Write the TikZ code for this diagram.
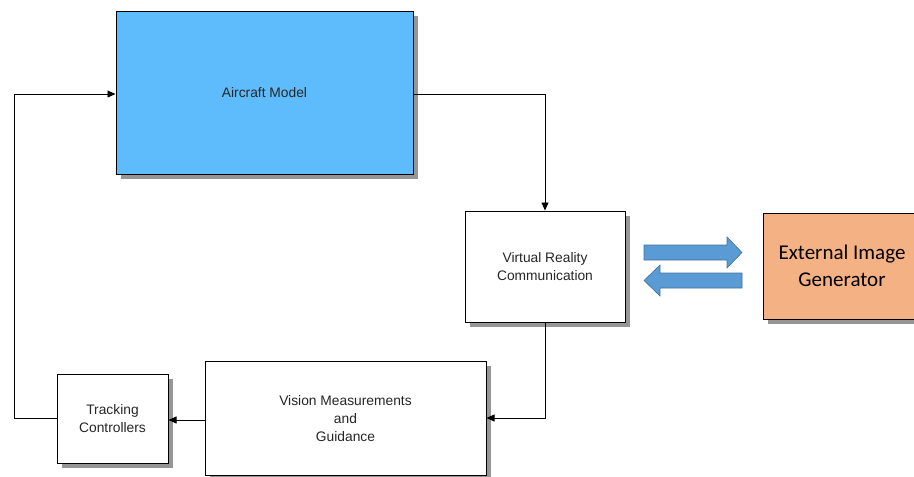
\documentclass[tikz,border=0pt]{standalone}
\usepackage{fontspec}
\setmainfont{Liberation Sans}
\newfontfamily\carl{Carlito}
\usetikzlibrary{arrows.meta,shapes.arrows,calc,shadows}
\definecolor{amblue}{HTML}{5EBBFC}
\definecolor{extorange}{HTML}{F4B183}
\definecolor{bafill}{HTML}{5B9BD5}
\definecolor{baedge}{HTML}{41719C}
\begin{document}
\begin{tikzpicture}[x=1pt,y=-1pt,
  blk/.style={draw=black,line width=1pt,align=center,font=\fontsize{13.8}{18}\selectfont,
     inner sep=0pt,text=black!85,
     drop shadow={shadow xshift=4.5pt,shadow yshift=-4.5pt,opacity=0.55,fill=black!75}},
  conn/.style={line width=0.8pt,-{Triangle[length=8pt,width=7pt]}}]
\useasboundingbox (0,0) rectangle (914,477);
\node[blk,fill=amblue,minimum width=297pt,minimum height=163pt] (am) at (264.5,92.5) {Aircraft Model};
\node[blk,fill=white,minimum width=160pt,minimum height=111pt] (vr) at (545,266.5) {Virtual Reality\\Communication};
\node[blk,fill=extorange,minimum width=152pt,minimum height=106pt,text=black,font=\carl\fontsize{21}{27}\selectfont] (ext) at (839,266) {\hspace*{6pt}External Image\\\hspace*{6pt}Generator};
\node[blk,fill=white,minimum width=281pt,minimum height=114pt] (vm) at (345.5,418.5) {Vision Measurements\\and\\Guidance};
\node[blk,fill=white,minimum width=111pt,minimum height=89pt] (tc) at (112.5,418.5) {Tracking\\Controllers};
% block arrows
\filldraw[fill=bafill,draw=baedge,line width=0.6pt] (644,245) -- (727,245) -- (727,237) -- (742,252.5) -- (727,268) -- (727,260) -- (644,260) -- cycle;
\filldraw[fill=bafill,draw=baedge,line width=0.6pt] (742,273) -- (660,273) -- (660,265) -- (644,280.5) -- (660,296) -- (660,288) -- (742,288) -- cycle;
% connectors
\coordinate (c1) at (545,94);
\coordinate (c2) at (545,418);
\coordinate (c3) at (14,418);
\coordinate (c4) at (14,94);
\draw[conn] (am.east |- c1) -- (c1) -- (vr.north -| c1);
\draw[conn] (vr.south -| c2) -- (c2) -- (vm.east |- c2);
\draw[conn] (vm.west |- 0,420) -- (tc.east |- 0,420);
\draw[conn] (tc.west |- c3) -- (c3) -- (c4) -- (am.west |- c4);
\end{tikzpicture}
\end{document}
